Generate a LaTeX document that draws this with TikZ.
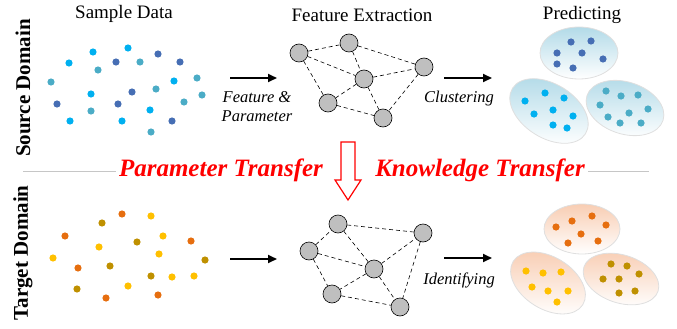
\documentclass[tikz,border=0pt]{standalone}
\usepackage{fontspec}
\setmainfont{Liberation Serif}
\usetikzlibrary{arrows.meta}
\definecolor{srcbright}{RGB}{0,176,240}
\definecolor{srcdark}{RGB}{70,110,180}
\definecolor{srcteal}{RGB}{75,172,198}
\definecolor{tgtorange}{RGB}{230,110,15}
\definecolor{tgtyellow}{RGB}{255,192,0}
\definecolor{tgtgold}{RGB}{191,144,0}
\definecolor{srcshade}{RGB}{165,212,228}
\definecolor{tgtshade}{RGB}{247,196,165}
\definecolor{xferred}{RGB}{255,0,0}

\begin{document}
\begin{tikzpicture}[x=1pt,y=-1pt,
    title/.style={font=\fontsize{19}{22}\selectfont},
    domainlabel/.style={rotate=90,font=\bfseries\fontsize{21}{24}\selectfont},
    steplabel/.style={font=\itshape\fontsize{16.5}{19}\selectfont,align=center},
    transfer/.style={text=xferred,font=\bfseries\itshape\fontsize{25}{28}\selectfont},
    feat/.style={circle,draw=black,fill=gray!50,line width=0.6pt,minimum size=18pt,inner sep=0pt},
    link/.style={dashed,dash pattern=on 4pt off 3pt,line width=0.6pt},
    flow/.style={-{Triangle[length=9pt,width=8pt]},line width=1.8pt},
    srcgroup/.style={draw=gray!25,line width=0.8pt,top color=srcshade!85,bottom color=white},
    tgtgroup/.style={draw=gray!25,line width=0.8pt,top color=tgtshade!85,bottom color=white}]
    \useasboundingbox (0,0) rectangle (677,329);

    % column titles and domain labels
    \node[title] (sample) at (124,14) {Sample Data};
    \node[title] (extract) at (362,15) {Feature Extraction};
    \node[title] (predict) at (582,15) {Predicting};
    \node[domainlabel] (srcdom) at (23,88) {Source Domain};
    \node[domainlabel] (tgtdom) at (23,253) {Target Domain};

    % sample data points
    \foreach \x/\y in {69/63,93/52,128/48,174/81,91/94,150/110,70/121,122/121}
        \fill[srcbright] (\x,\y) circle (3.6pt);
    \foreach \x/\y in {158/54,180/62,116/62,132/92,57/104,118/104,172/121}
        \fill[srcdark] (\x,\y) circle (3.6pt);
    \foreach \x/\y in {140/62,98/70,51/82,197/78,156/89,202/95,184/102,91/111,151/132}
        \fill[srcteal] (\x,\y) circle (3.6pt);
    \foreach \x/\y in {122/214,65/236,191/241,78/268,106/298,158/295}
        \fill[tgtorange] (\x,\y) circle (3.6pt);
    \foreach \x/\y in {151/216,163/236,99/247,159/254,53/258,172/277,194/276,128/286}
        \fill[tgtyellow] (\x,\y) circle (3.6pt);
    \foreach \x/\y in {102/223,137/242,205/260,110/266,151/276,77/289}
        \fill[tgtgold] (\x,\y) circle (3.6pt);

    % feature graphs
    \node[feat] (sa) at (299,53) {};
    \node[feat] (sb) at (349,43) {};
    \node[feat] (sc) at (364,79) {};
    \node[feat] (sd) at (424,67) {};
    \node[feat] (se) at (328,103) {};
    \node[feat] (sf) at (383,118) {};
    \node[feat] (ta) at (309,251) {};
    \node[feat] (tb) at (338,224) {};
    \node[feat] (tc) at (374,269) {};
    \node[feat] (td) at (423,233) {};
    \node[feat] (te) at (332,294) {};
    \node[feat] (tf) at (400,307) {};
    \foreach \g in {s,t}
        \foreach \u/\v in {a/b,a/c,a/e,b/c,b/d,c/d,c/e,c/f,e/f,d/f}
            \draw[link] (\g\u) -- (\g\v);

    % clusters
    \shade[srcgroup] (579,53) ellipse [x radius=39,y radius=26];
    \shade[srcgroup,rotate around={-32:(549,111)}] (549,111) ellipse [x radius=43,y radius=27];
    \shade[srcgroup,rotate around={-18:(625,108)}] (625,108) ellipse [x radius=40,y radius=26];
    \shade[tgtgroup] (582,229) ellipse [x radius=38,y radius=25];
    \shade[tgtgroup,rotate around={-32:(548,283)}] (548,283) ellipse [x radius=41,y radius=26];
    \shade[tgtgroup,rotate around={-18:(621,279)}] (621,279) ellipse [x radius=39,y radius=24];
    \foreach \x/\y in {571/42,591/41,557/53,582/53,603/59,557/64,573/68}
        \fill[srcdark] (\x,\y) circle (3.6pt);
    \foreach \x/\y in {545/93,525/101,564/98,534/114,553/110,573/116,553/125,567/128}
        \fill[srcbright] (\x,\y) circle (3.6pt);
    \foreach \x/\y in {606/91,621/96,638/95,600/105,629/113,648/109,608/117,620/123,641/123}
        \fill[srcteal] (\x,\y) circle (3.6pt);
    \foreach \x/\y in {572/221,592/216,556/227,606/225,581/234,568/243,598/241}
        \fill[tgtorange] (\x,\y) circle (3.6pt);
    \foreach \x/\y in {526/271,543/273,561/272,532/287,548/291,568/291,557/302}
        \fill[tgtyellow] (\x,\y) circle (3.6pt);
    \foreach \x/\y in {611/264,627/266,639/274,603/279,619/279,635/291,619/293}
        \fill[tgtgold] (\x,\y) circle (3.6pt);

    % flow arrows
    \coordinate (s1a) at (230,78);  \coordinate (s1b) at (277,78);
    \coordinate (s2a) at (444,78);  \coordinate (s2b) at (492,78);
    \coordinate (t1a) at (230,259); \coordinate (t1b) at (277,259);
    \coordinate (t2a) at (444,258); \coordinate (t2b) at (492,258);
    \draw[flow] (s1a) -- (s1b);
    \draw[flow] (s2a) -- (s2b);
    \draw[flow] (t1a) -- (t1b);
    \draw[flow] (t2a) -- (t2b);
    \node[steplabel] (featpar) at (257,107) {Feature \&\\Parameter};
    \node[steplabel] (clust) at (459,99) {Clustering};
    \node[steplabel] (ident) at (459,280) {Identifying};

    % transfer band
    \node[transfer] (ptrans) at (221,170) {Parameter Transfer};
    \node[transfer] (ktrans) at (480,170) {Knowledge Transfer};
    \coordinate (lineL) at (23,171);
    \coordinate (lineR) at (649,171);
    \draw[gray!45,line width=1pt] (lineL) -- (ptrans.west |- lineL);
    \draw[gray!45,line width=1pt] (ktrans.east |- lineR) -- (lineR);
    \draw[xferred,line width=1.2pt,line join=miter]
        (341,142) -- (355,142) -- (355,180) -- (361,180) -- (348,200)
        -- (335,180) -- (341,180) -- cycle;
\end{tikzpicture}
\end{document}
